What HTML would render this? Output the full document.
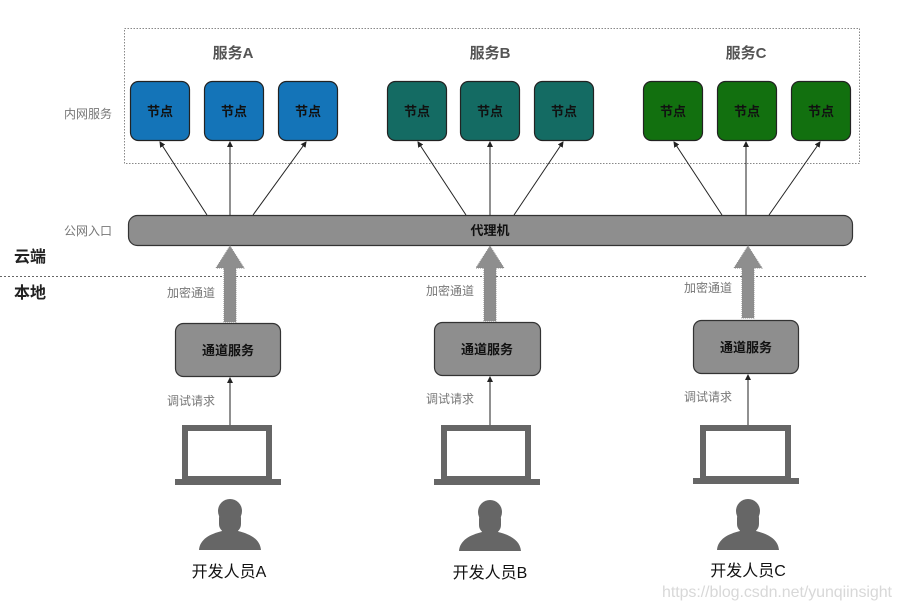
<!DOCTYPE html>
<html><head><meta charset="utf-8"><style>
body{margin:0;background:#fff}
text{font-family:"Liberation Sans","Noto Sans CJK SC",sans-serif}
</style></head><body>
<svg width="903" height="608" viewBox="0 0 903 608" xmlns="http://www.w3.org/2000/svg">
<defs>
<marker id="ah" markerWidth="6" markerHeight="6" refX="5" refY="3" orient="auto"><path d="M0,0L6,3L0,6z" fill="#222"/></marker>
<g id="person"><circle cx="0" cy="-36" r="12" fill="#666"/><rect x="-11" y="-38" width="22" height="24" rx="9" fill="#666"/><path d="M-31,3 C-30,-8 -20,-13 -8,-16 L-7,-22 L7,-22 L8,-16 C20,-13 30,-8 31,3 Z" fill="#666"/></g>
</defs>
<rect x="124.5" y="28.5" width="735" height="135" fill="none" stroke="#888" stroke-dasharray="1.5,1.5"/>
<g font-size="15" font-weight="bold" fill="#555" text-anchor="middle">
<text x="233" y="58">服务A</text><text x="490" y="58">服务B</text><text x="746" y="58">服务C</text></g>
<g font-size="12" fill="#777"><text x="64" y="118">内网服务</text><text x="64" y="235">公网入口</text></g>
<g font-size="16" font-weight="bold" fill="#222"><text x="14" y="262">云端</text><text x="14" y="298">本地</text></g>
<g stroke="#222" stroke-width="1.2">
<rect x="130.5" y="81.5" width="59" height="59" rx="8" fill="#1474b8"/><rect x="204.5" y="81.5" width="59" height="59" rx="8" fill="#1474b8"/><rect x="278.5" y="81.5" width="59" height="59" rx="8" fill="#1474b8"/>
<rect x="387.5" y="81.5" width="59" height="59" rx="8" fill="#146b63"/><rect x="460.5" y="81.5" width="59" height="59" rx="8" fill="#146b63"/><rect x="534.5" y="81.5" width="59" height="59" rx="8" fill="#146b63"/>
<rect x="643.5" y="81.5" width="59" height="59" rx="8" fill="#12700f"/><rect x="717.5" y="81.5" width="59" height="59" rx="8" fill="#12700f"/><rect x="791.5" y="81.5" width="59" height="59" rx="8" fill="#12700f"/>
</g>
<g font-size="13" font-weight="bold" fill="#111" text-anchor="middle">
<text x="160" y="116">节点</text><text x="234" y="116">节点</text><text x="308" y="116">节点</text>
<text x="417" y="116">节点</text><text x="490" y="116">节点</text><text x="564" y="116">节点</text>
<text x="673" y="116">节点</text><text x="747" y="116">节点</text><text x="821" y="116">节点</text></g>
<g stroke="#222" stroke-width="1" marker-end="url(#ah)">
<line x1="207" y1="215" x2="160" y2="142"/><line x1="230" y1="215" x2="230" y2="142"/><line x1="253" y1="215" x2="306" y2="142"/>
<line x1="466" y1="215" x2="418" y2="142"/><line x1="490" y1="215" x2="490" y2="142"/><line x1="514" y1="215" x2="563" y2="142"/>
<line x1="722" y1="215" x2="674" y2="142"/><line x1="746" y1="215" x2="746" y2="142"/><line x1="769" y1="215" x2="820" y2="142"/>
</g>
<rect x="128.5" y="215.5" width="724" height="30" rx="9" fill="#8e8e8e" stroke="#333" stroke-width="1.2"/>
<text x="490" y="235" font-size="13" font-weight="bold" fill="#111" text-anchor="middle">代理机</text>
<line x1="0" y1="276.5" x2="866" y2="276.5" stroke="#666" stroke-dasharray="2,2"/>
<g fill="#8e8e8e" stroke="#888" stroke-width="1" stroke-dasharray="1,1">
<path d="M224,322 L224,268 L216,268 L230,246 L244,268 L236,268 L236,322 Z"/>
<path d="M484,321 L484,268 L476,268 L490,246 L504,268 L496,268 L496,321 Z"/>
<path d="M742,318 L742,268 L734,268 L748,246 L762,268 L754,268 L754,318 Z"/>
</g>
<g font-size="12" fill="#777"><text x="167" y="297">加密通道</text><text x="426" y="295">加密通道</text><text x="684" y="292">加密通道</text>
<text x="167" y="405">调试请求</text><text x="426" y="403">调试请求</text><text x="684" y="401">调试请求</text></g>
<g fill="#8e8e8e" stroke="#333" stroke-width="1.2">
<rect x="175.5" y="323.5" width="105" height="53" rx="8"/><rect x="434.5" y="322.5" width="106" height="53" rx="8"/><rect x="693.5" y="320.5" width="105" height="53" rx="8"/></g>
<g font-size="13" font-weight="bold" fill="#111" text-anchor="middle">
<text x="228" y="355">通道服务</text><text x="487" y="354">通道服务</text><text x="746" y="352">通道服务</text></g>
<g stroke="#222" stroke-width="1" marker-end="url(#ah)">
<line x1="230" y1="427" x2="230" y2="378"/><line x1="490" y1="427" x2="490" y2="377"/><line x1="748" y1="425" x2="748" y2="375"/></g>
<g fill="none" stroke="#666" stroke-width="6">
<rect x="185" y="428" width="84" height="51"/><rect x="444" y="428" width="84" height="51"/><rect x="703" y="428" width="85" height="51"/></g>
<g fill="#666"><rect x="175" y="479" width="106" height="6"/><rect x="434" y="479" width="106" height="6"/><rect x="693" y="478" width="106" height="6"/></g>
<use href="#person" transform="translate(230,547)"/><use href="#person" transform="translate(490,548)"/><use href="#person" transform="translate(748,547)"/>
<g font-size="16" fill="#111" text-anchor="middle"><text x="229" y="577">开发人员A</text><text x="490" y="578">开发人员B</text><text x="748" y="576">开发人员C</text></g>
<text x="662" y="597" font-size="16" fill="#d8d8d8" textLength="230">https://blog.csdn.net/yunqiinsight</text>
</svg>
</body></html>
